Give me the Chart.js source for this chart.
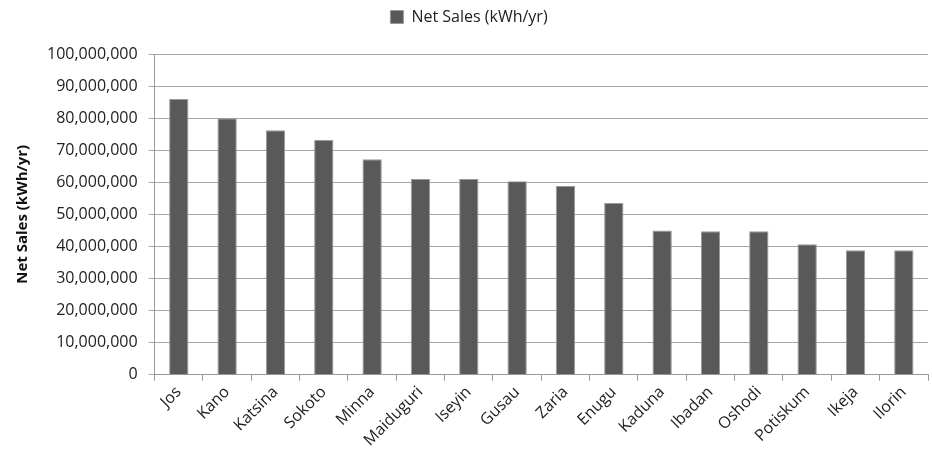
<!DOCTYPE html>
<html>
<head>
<meta charset="utf-8">
<script src="https://cdn.jsdelivr.net/npm/chart.js@4.4.0/dist/chart.umd.min.js"></script>
<style>
  html, body { margin: 0; padding: 0; background: #fff; }
</style>
</head>
<body>
<canvas id="myChart" width="932" height="465"></canvas>
<script>
//Net sales per business unit

var cities = ["Jos", "Kano", "Katsina", "Sokoto", "Minna", "Maiduguri", "Iseyin", "Gusau",
              "Zaria", "Enugu", "Kaduna", "Ibadan", "Oshodi", "Potiskum", "Ikeja", "Ilorin"];
var netSales = [86000000, 80000000, 76200000, 73200000, 67200000, 61000000, 61000000, 60300000,
                58800000, 53500000, 45000000, 44700000, 44700000, 40700000, 38800000, 38800000];
var seriesName = "Net Sales (kWh/yr)";
var yTitle = "Net Sales (kWh/yr)";

//common font settings
Chart.defaults.font.family = "'Open Sans', 'Liberation Sans', sans-serif";
Chart.defaults.font.size = 16;
Chart.defaults.color = "#222";

//adds some empty space under the legend, like the original
var legendGap = {
    id: "legendGap",
    beforeInit: function (chart) {
        var origFit = chart.legend.fit;
        chart.legend.fit = function () {
            origFit.bind(chart.legend)();
            this.height += 19;
        };
    }
};

var infoChart = new Chart("myChart", {
    type: "bar",
    data: {
        labels: cities,
        datasets: [{
            label: seriesName,
            data: netSales,
            backgroundColor: "#595959",
            borderColor: "#9a9a9a",
            borderWidth: 1,
            barPercentage: 0.4,
            categoryPercentage: 1.0
        }]
    },
    plugins: [legendGap],
    options: {
        responsive: false,
        animation: false,
        layout: {
            padding: { left: 10, right: 4, top: 0, bottom: 13 }
        },
        plugins: {
            legend: {
                display: true,
                position: "top",
                labels: {
                    boxWidth: 13,
                    boxHeight: 13,
                    padding: 9,
                    color: "#222",
                    font: { size: 16 }
                }
            },
            tooltip: { enabled: false }
        },
        scales: {
            x: {
                grid: {
                    offset: true,
                    drawOnChartArea: false,
                    drawTicks: true,
                    tickLength: 6,
                    color: "#9a9a9a"
                },
                border: { color: "#9a9a9a" },
                ticks: {
                    minRotation: 45,
                    maxRotation: 45,
                    autoSkip: false,
                    padding: 2,
                    font: { size: 16 }
                }
            },
            y: {
                min: 0,
                max: 100000000,
                ticks: {
                    stepSize: 10000000,
                    padding: 11,
                    font: { size: 16 }
                },
                grid: {
                    color: "#a6a6a6",
                    tickLength: 6
                },
                border: { color: "#9a9a9a" },
                title: {
                    display: true,
                    text: yTitle,
                    font: { weight: "bold", size: 15 },
                    color: "#111",
                    padding: 4
                }
            }
        }
    }
});
</script>
</body>
</html>
